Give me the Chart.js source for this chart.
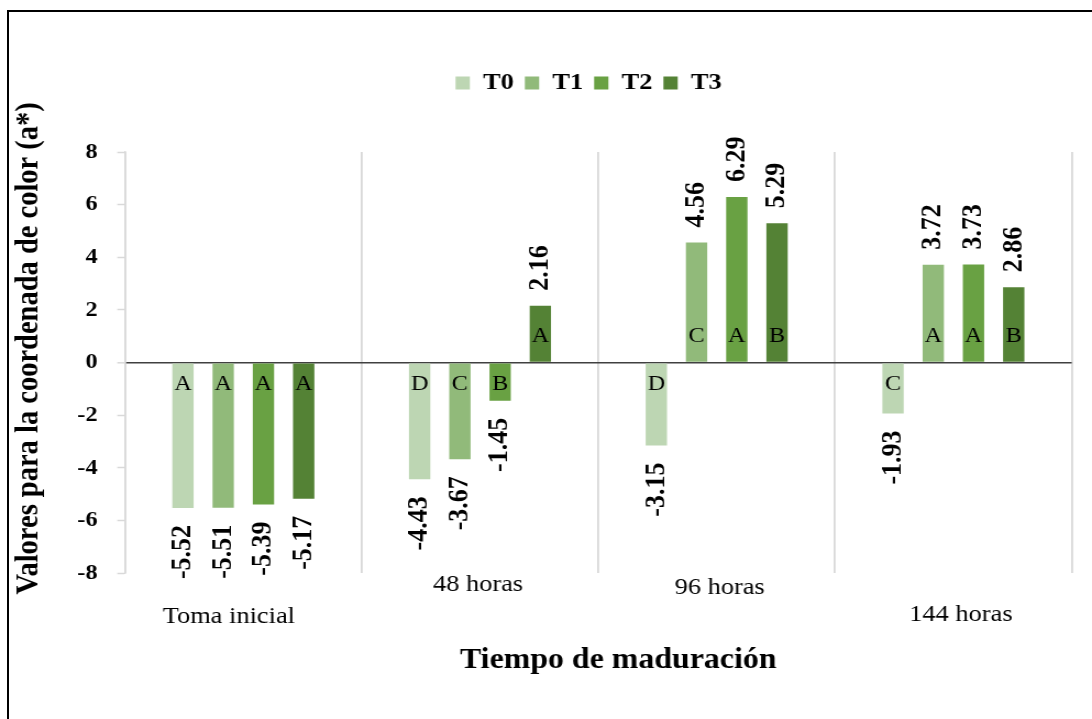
<!DOCTYPE html>
<html>
<head>
<meta charset="utf-8">
<script src="https://cdn.jsdelivr.net/npm/chart.js@4.4.1/dist/chart.umd.min.js"></script>
<style>
html,body{margin:0;padding:0;background:#fff;overflow:hidden;width:1092px;height:719px}
#frame{position:absolute;left:7px;top:10px;width:1200px;height:800px;border-top:2px solid #000;border-left:2px solid #000;box-sizing:border-box}
#c{position:absolute;left:0;top:0}
.preload{position:absolute;left:-9999px;top:0;font-family:'Liberation Serif'}
</style>
</head>
<body>
<span class="preload">Aa</span><span class="preload" style="font-weight:bold">Aa</span>
<div id="frame"></div>
<canvas id="c" style="width:1092px;height:719px"></canvas>
<script>
// ---- data ----
const categories = ['Toma inicial', '48 horas', '96 horas', '144 horas'];
const seriesNames = ['T0', 'T1', 'T2', 'T3'];
const t0Values = [-5.52, -4.43, -3.15, -1.93];
const t1Values = [-5.51, -3.67, 4.56, 3.72];
const t2Values = [-5.39, -1.45, 6.29, 3.73];
const t3Values = [-5.17, 2.16, 5.29, 2.86];
const t0Letters = ['A', 'D', 'D', 'C'];
const t1Letters = ['A', 'C', 'C', 'A'];
const t2Letters = ['A', 'B', 'A', 'A'];
const t3Letters = ['A', 'A', 'B', 'B'];
const yTickValues = [-8, -6, -4, -2, 0, 2, 4, 6, 8];
const seriesColors = ['#bdd6b3', '#91ba7a', '#69a143', '#548235'];

// ---- sizing (image is horizontally stretched) ----
const S = 1.1;
const W = Math.round(1092 / S);
const H = 719;
const canvas = document.getElementById('c');
canvas.width = W;
canvas.height = H;
const AXIS_X = 125 / S;
const RIGHT_X = 1072 / S;
const SERIF = "'Liberation Serif', 'Times New Roman', serif";

const valueSets = [t0Values, t1Values, t2Values, t3Values];
const letterSets = [t0Letters, t1Letters, t2Letters, t3Letters];

const barLabels = {
  id: 'barLabels',
  afterDatasetsDraw(chart) {
    const ctx = chart.ctx;
    chart.data.datasets.forEach((ds, di) => {
      const meta = chart.getDatasetMeta(di);
      meta.data.forEach((bar, i) => {
        const v = ds.data[i];
        const zero = chart.scales.y.getPixelForValue(0);
        ctx.save();
        ctx.font = 'bold 26px ' + SERIF;
        ctx.fillStyle = '#000';
        ctx.textBaseline = 'middle';
        if (v >= 0) {
          ctx.translate(bar.x, bar.y - 15);
          ctx.rotate(-Math.PI / 2);
          ctx.textAlign = 'left';
        } else {
          ctx.translate(bar.x, bar.y + 17);
          ctx.rotate(-Math.PI / 2);
          ctx.textAlign = 'right';
        }
        ctx.fillText(v.toFixed(2), 0, 0);
        ctx.restore();
        ctx.save();
        ctx.font = '22px ' + SERIF;
        ctx.fillStyle = '#000';
        ctx.textAlign = 'center';
        ctx.textBaseline = 'alphabetic';
        const ly = v >= 0 ? zero - 21 : zero + 27;
        ctx.fillText(letterSets[di][i], bar.x, ly);
        ctx.restore();
      });
    });
  }
};

const xCategoryLabels = {
  id: 'xCategoryLabels',
  afterDraw(chart) {
    const xs = chart.scales.x;
    const ctx = chart.ctx;
    const dx = [-14.5, -2, 3, 7.5];
    const ys = [617, 585, 588, 615];
    ctx.save();
    ctx.font = '24px ' + SERIF;
    ctx.fillStyle = '#000';
    ctx.textAlign = 'center';
    ctx.textBaseline = 'middle';
    categories.forEach((c, i) => {
      ctx.fillText(c, xs.getPixelForValue(i) + dx[i] / S, ys[i]);
    });
    ctx.restore();
  }
};

const legendShift = {
  id: 'legendShift',
  afterLayout(chart) {
    const l = chart.legend;
    if (l) { l.left += 48; l.right += 48; }
  }
};

function draw() {
  new Chart(canvas, {
    type: 'bar',
    data: {
      labels: categories,
      datasets: seriesNames.map((n, k) => ({
        label: n,
        data: valueSets[k],
        backgroundColor: seriesColors[k],
        borderWidth: 0,
        categoryPercentage: 0.68,
        barPercentage: 0.53
      }))
    },
    options: {
      responsive: false,
      devicePixelRatio: 1,
      animation: false,
      layout: { padding: { left: 0, right: W - RIGHT_X, top: 61, bottom: 41 } },
      font: { family: SERIF },
      plugins: {
        tooltip: { enabled: false },
        legend: {
          position: 'top',
          labels: {
            boxWidth: 13, boxHeight: 13, padding: 10,
            color: '#000',
            font: { family: SERIF, size: 24, weight: 'bold' }
          }
        },
        title: {
          display: true, text: '', weight: 500,
          font: { size: 10, lineHeight: 1 },
          padding: { top: 37, bottom: 0 }
        }
      },
      scales: {
        x: {
          grid: { offset: true, color: '#d9d9d9', lineWidth: 1.8, drawTicks: false },
          border: { display: false },
          ticks: { display: false },
          title: {
            display: true,
            text: '\u00A0\u00A0\u00A0\u00A0\u00A0Tiempo de maduración',
            color: '#000',
            font: { family: SERIF, size: 29, weight: 'bold', lineHeight: 1.2 },
            padding: { top: 70, bottom: 0 }
          }
        },
        y: {
          min: -8, max: 8,
          afterBuildTicks: s => { s.ticks = yTickValues.map(v => ({ value: v })); },
          afterFit: s => { s.width = AXIS_X; },
          border: { display: true, color: '#d9d9d9', width: 1.5 },
          grid: {
            drawOnChartArea: true, drawTicks: true, tickLength: 7,
            color: c => (c.tick && c.tick.value === 0) ? '#404040' : 'rgba(0,0,0,0)',
            lineWidth: c => (c.tick && c.tick.value === 0) ? 1.6 : 1,
            tickColor: '#d9d9d9', tickWidth: 1.5
          },
          ticks: {
            color: '#000', padding: 18,
            font: { family: SERIF, size: 22, weight: 'bold' },
            callback: v => String(v)
          },
          title: {
            display: true,
            text: '\u00A0\u00A0\u00A0\u00A0Valores para la coordenada de color (a*)',
            color: '#000',
            font: { family: SERIF, size: 28.5, weight: 'bold', lineHeight: 1.2 },
            padding: { top: 10, bottom: 0 }
          }
        }
      }
    },
    plugins: [barLabels, xCategoryLabels, legendShift]
  });
}

const loads = [
  document.fonts.load('22px "Liberation Serif"'),
  document.fonts.load('bold 22px "Liberation Serif"')
];
Promise.all(loads).then(draw, draw);
</script>
</body>
</html>
